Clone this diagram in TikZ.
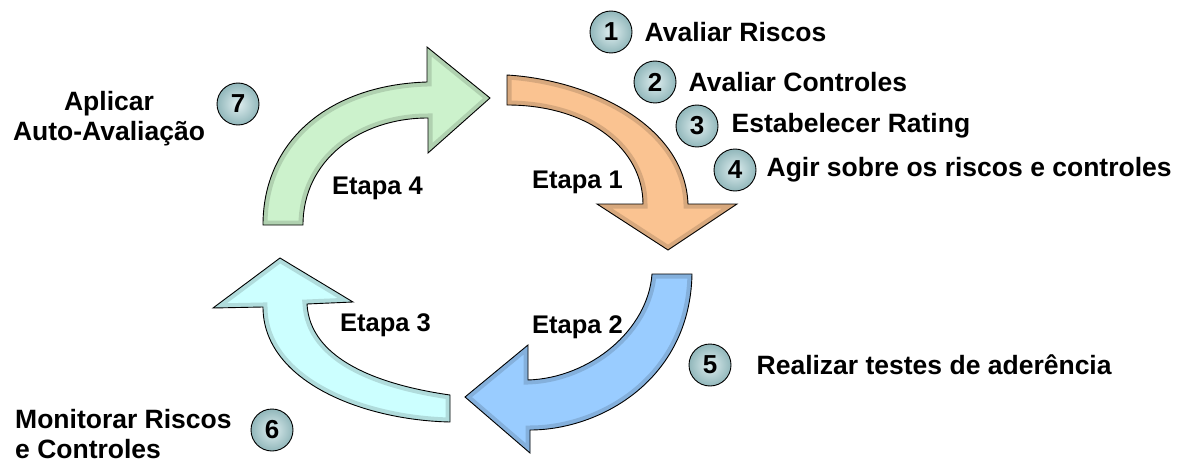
\documentclass[tikz,border=0pt]{standalone}
\usepackage{fontspec}
\setmainfont{Liberation Sans}
\usetikzlibrary{positioning}
\definecolor{stageorange}{RGB}{250,195,145}
\definecolor{stageblue}{RGB}{153,204,255}
\definecolor{stagecyan}{RGB}{204,255,255}
\definecolor{stagegreen}{RGB}{204,242,204}
\definecolor{ballgray}{RGB}{165,208,212}

% arrow outlines, in pixels of the picture
\def\stageonepath{(507,75) .. controls (590,80) and (685,125) .. (688,204) -- (737,204) -- (668,250) -- (597,204) -- (643,204) .. controls (643,150) and (590,105) .. (507,105) -- cycle}
\def\stagetwopath{(652,274) -- (692,274) .. controls (690,380) and (600,430) .. (530,430) -- (530,453) -- (465,397) -- (528,345) -- (528,380) .. controls (590,378) and (648,330) .. (652,274) -- cycle}
\def\stagethreepath{(450,395) -- (450,422) .. controls (360,420) and (263,380) .. (263,307) -- (213,308) -- (280,258) -- (353,302) -- (307,304) .. controls (310,360) and (380,385) .. (450,395) -- cycle}
\def\stagefourpath{(263,225) .. controls (263,140) and (330,85) .. (427,82) -- (427,47) -- (490,98) -- (428,153) -- (428,118) .. controls (360,118) and (303,160) .. (303,225) -- cycle}

\newcommand{\stagearrow}[2]{%
  \fill[#2] #1;
  \begin{scope}
    \clip #1;
    \draw[rim=#2] #1;
  \end{scope}
  \draw[outline] #1;}

\tikzset{
  rim/.style={line width=9pt, draw=#1!55!black, opacity=0.3},
  outline/.style={draw=black, line width=0.9pt, line join=miter},
  ball/.style={circle, draw=black, line width=0.9pt, minimum size=42pt, inner sep=0pt,
    inner color=ballgray!35!white, outer color=ballgray!88!black,
    font=\fontsize{26}{26}\selectfont\bfseries},
  lbl/.style={inner sep=0pt, font=\fontsize{26.5}{30}\selectfont\bfseries},
  stagelbl/.style={inner sep=0pt, anchor=west, font=\fontsize{25.5}{30}\selectfont\bfseries}
}

\begin{document}
\begin{tikzpicture}[x=1pt, y=-1pt]
\useasboundingbox (0,0) rectangle (1179,460);
\clip (0,0) rectangle (1179,460);

\stagearrow{\stageonepath}{stageorange}
\stagearrow{\stagetwopath}{stageblue}
\stagearrow{\stagethreepath}{stagecyan}
\stagearrow{\stagefourpath}{stagegreen}

\node[stagelbl] (e1) at (532,182) {Etapa 1};
\node[stagelbl] (e2) at (532,327) {Etapa 2};
\node[stagelbl] (e3) at (340,325) {Etapa 3};
\node[stagelbl] (e4) at (332,188) {Etapa 4};

% numbered steps
\node[ball] (b1) at (611,32) {1};
\node[ball] (b2) at (655,82) {2};
\node[ball] (b3) at (697,126) {3};
\node[ball] (b4) at (735,170) {4};
\node[ball] (b5) at (710,365) {5};
\node[ball] (b6) at (272,430) {6};
\node[ball] (b7) at (238,104) {7};

\node[lbl, anchor=west, right=12pt of b1] (t1) {Avaliar Riscos};
\node[lbl, anchor=west, right=12pt of b2] (t2) {Avaliar Controles};
\node[lbl, anchor=west, right=13pt of b3] (t3) {Estabelecer Rating};
\node[lbl, anchor=west, right=10pt of b4] (t4) {Agir sobre os riscos e controles};
\node[lbl, anchor=west, right=25pt of b5] (t5) {Realizar testes de aderência};
\node[lbl, align=left, anchor=north west] (t6) at (15,409) {Monitorar Riscos\\e Controles};
\node[lbl, align=center, anchor=north] (t7) at (109,91) {Aplicar\\Auto-Avaliação};
\end{tikzpicture}
\end{document}
